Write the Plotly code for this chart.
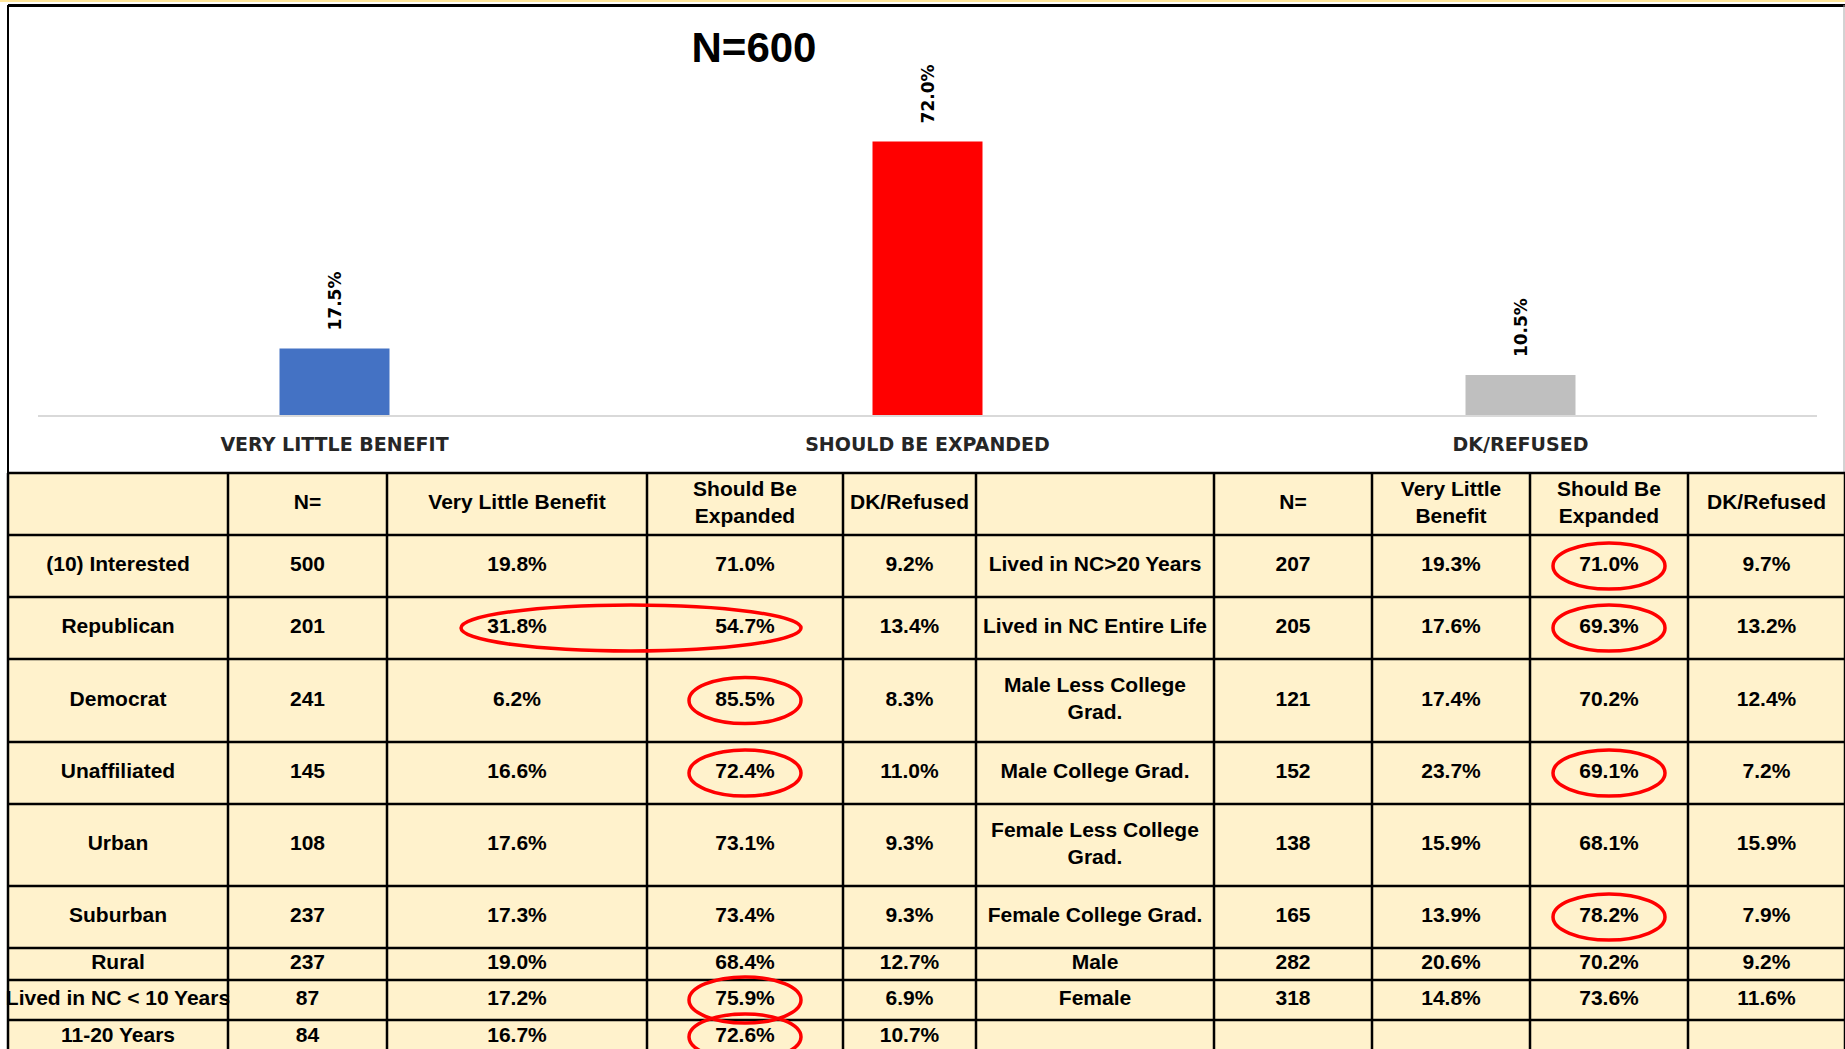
"""Survey topline chart with crosstab table"""

import plotly.graph_objects as go

# ---- data ----
categories = ["VERY LITTLE BENEFIT", "SHOULD BE EXPANDED", "DK/REFUSED"]
topline = [17.5, 72.0, 10.5]
bar_colors = ["#4472C4", "#FF0000", "#BFBFBF"]
total_n = 600

left_header = ["", "N=", "Very Little Benefit", "Should Be<br>Expanded", "DK/Refused"]
right_header = ["", "N=", "Very Little<br>Benefit", "Should Be<br>Expanded", "DK/Refused"]

left_groups = ["(10) Interested", "Republican", "Democrat", "Unaffiliated", "Urban",
               "Suburban", "Rural", "Lived in NC < 10 Years", "11-20 Years"]
left_n = [500, 201, 241, 145, 108, 237, 237, 87, 84]
left_vlb = [19.8, 31.8, 6.2, 16.6, 17.6, 17.3, 19.0, 17.2, 16.7]
left_sbe = [71.0, 54.7, 85.5, 72.4, 73.1, 73.4, 68.4, 75.9, 72.6]
left_dk = [9.2, 13.4, 8.3, 11.0, 9.3, 9.3, 12.7, 6.9, 10.7]

right_groups = ["Lived in NC>20 Years", "Lived in NC Entire Life", "Male Less College<br>Grad.",
                "Male College Grad.", "Female Less College<br>Grad.", "Female College Grad.",
                "Male", "Female", ""]
right_n = [207, 205, 121, 152, 138, 165, 282, 318, None]
right_vlb = [19.3, 17.6, 17.4, 23.7, 15.9, 13.9, 20.6, 14.8, None]
right_sbe = [71.0, 69.3, 70.2, 69.1, 68.1, 78.2, 70.2, 73.6, None]
right_dk = [9.7, 13.2, 12.4, 7.2, 15.9, 7.9, 9.2, 11.6, None]

# circled cells: (side, row, first col, last col)
highlights = [
    ("L", 1, 2, 3), ("L", 2, 3, 3), ("L", 3, 3, 3), ("L", 7, 3, 3), ("L", 8, 3, 3),
    ("R", 0, 3, 3), ("R", 1, 3, 3), ("R", 3, 3, 3), ("R", 5, 3, 3),
]

# ---- table geometry (pixels) ----
W, H = 1845, 1049
col_edges = [8, 228, 387, 647, 843, 976, 1214, 1372, 1530, 1688, 1845]
row_edges = [473, 535, 597, 659, 742, 804, 886, 948, 980, 1020, 1054]
TABLE_FONT = dict(family="Liberation Sans", size=21, color="black", weight="bold")


def col_center(i):
    return (col_edges[i] + col_edges[i + 1]) / 2


def row_center(j):
    return (row_edges[j] + row_edges[j + 1]) / 2


def pct(v):
    return "" if v is None else f"{v:.1f}%"


fig = go.Figure()

# bars
fig.add_trace(go.Bar(
    x=categories, y=topline, marker=dict(color=bar_colors, line=dict(width=0)),
    width=0.1855, hoverinfo="skip", showlegend=False,
    xaxis="x", yaxis="y",
))

for cat, val in zip(categories, topline):
    fig.add_annotation(
        x=cat, y=val, xref="x", yref="y", text=f"{val:.1f}%", textangle=-90,
        showarrow=False, yanchor="bottom", yshift=16,
        font=dict(family="DejaVu Sans", size=17, color="black", weight="bold"),
    )

# table text
xs, ys, texts = [], [], []
for i, h in enumerate(left_header + right_header):
    xs.append(col_center(i))
    ys.append(row_center(0))
    texts.append(h)

for j in range(len(left_groups)):
    left_row = [left_groups[j], str(left_n[j]), pct(left_vlb[j]), pct(left_sbe[j]), pct(left_dk[j])]
    right_row = [right_groups[j], "" if right_n[j] is None else str(right_n[j]),
                 pct(right_vlb[j]), pct(right_sbe[j]), pct(right_dk[j])]
    for i, t in enumerate(left_row + right_row):
        xs.append(col_center(i))
        ys.append(row_center(j + 1))
        texts.append(t)

fig.add_trace(go.Scatter(
    x=xs, y=ys, text=texts, mode="text", textposition="middle center",
    textfont=TABLE_FONT, hoverinfo="skip", showlegend=False,
    xaxis="x2", yaxis="y2",
))

shapes = []
# top strip and chart frame
shapes.append(dict(type="rect", xref="x2", yref="y2", x0=0, x1=W, y0=0, y1=2,
                   fillcolor="#FFE699", line=dict(width=0), layer="below"))
shapes.append(dict(type="line", xref="x2", yref="y2", x0=8, x1=W, y0=5.5, y1=5.5,
                   line=dict(color="black", width=3)))
shapes.append(dict(type="line", xref="x2", yref="y2", x0=8, x1=8, y0=5, y1=473,
                   line=dict(color="black", width=2)))
shapes.append(dict(type="line", xref="x2", yref="y2", x0=1844, x1=1844, y0=5, y1=473,
                   line=dict(color="#A6A6A6", width=1)))

# table fill and grid
shapes.append(dict(type="rect", xref="x2", yref="y2", x0=col_edges[0], x1=col_edges[-1],
                   y0=row_edges[0], y1=row_edges[-1], fillcolor="#FFF2CC",
                   line=dict(width=0), layer="below"))
for x in col_edges:
    shapes.append(dict(type="line", xref="x2", yref="y2", x0=x, x1=x,
                       y0=row_edges[0], y1=row_edges[-1], line=dict(color="black", width=2.5)))
for y in row_edges:
    shapes.append(dict(type="line", xref="x2", yref="y2", x0=col_edges[0], x1=col_edges[-1],
                       y0=y, y1=y, line=dict(color="black", width=2.5)))

# red ellipses
for side, row, c0, c1 in highlights:
    off = 0 if side == "L" else 5
    cx0 = col_center(c0 + off)
    cx1 = col_center(c1 + off)
    cy = row_center(row + 1)
    shapes.append(dict(type="circle", xref="x2", yref="y2",
                       x0=cx0 - 56, x1=cx1 + 56, y0=cy - 23, y1=cy + 23,
                       line=dict(color="#FF0000", width=3.5)))

fig.update_layout(
    width=W, height=H,
    margin=dict(l=0, r=0, t=0, b=0),
    paper_bgcolor="white",
    plot_bgcolor="rgba(0,0,0,0)",
    title=dict(text=f"N={total_n}", x=754 / W, y=1 - 47 / H, xanchor="center",
               yanchor="middle", xref="paper", yref="paper",
               font=dict(family="Liberation Sans", size=42, color="black", weight="bold")),
    xaxis=dict(domain=[38 / W, 1817 / W], showgrid=False, showline=True,
               linecolor="#D9D9D9", linewidth=2, ticks="", ticklabelstandoff=11,
               tickfont=dict(family="DejaVu Sans", size=19, color="#262626", weight="bold"),
               fixedrange=True),
    yaxis=dict(domain=[1 - 415 / H, 1 - (415 - 90 * 3.8) / H], range=[0, 90],
               visible=False, showgrid=False, fixedrange=True),
    xaxis2=dict(domain=[0, 1], range=[0, W], visible=False, anchor="y2", fixedrange=True),
    yaxis2=dict(domain=[0, 1], range=[H, 0], visible=False, anchor="x2", fixedrange=True),
    shapes=shapes,
    showlegend=False,
)

# drop the browser's default body margin so the figure sits at the page origin
fig.write_html("out.html", config={"displayModeBar": False},
               post_script="document.body.style.margin = '0';")
